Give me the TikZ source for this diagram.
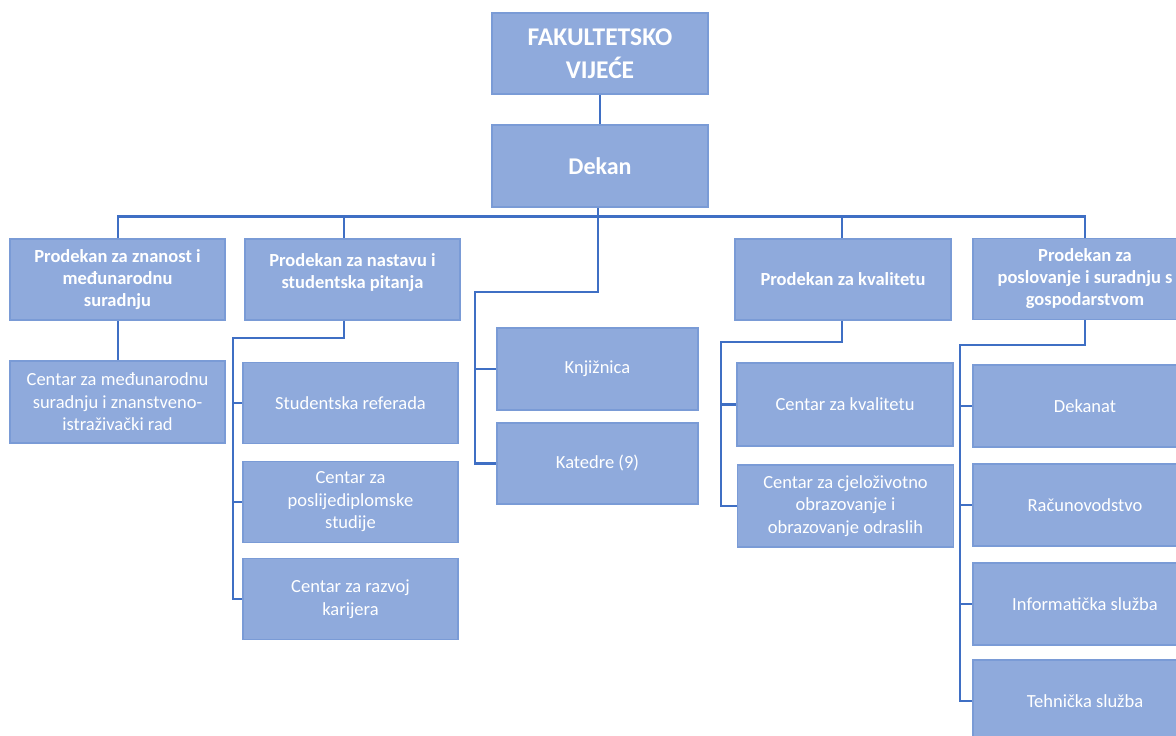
\documentclass[tikz,border=0pt]{standalone}
\usepackage{fontspec}
\setmainfont{Carlito}
\definecolor{boxfill}{HTML}{8FAADC}
\definecolor{boxedge}{HTML}{7A9BD6}
\definecolor{wire}{HTML}{3F6FC4}
\begin{document}
\begin{tikzpicture}[x=1pt,y=-1pt,
  box/.style={draw=boxedge,fill=boxfill,line width=1.6pt,text=white,align=center,
    inner sep=0pt,font=\fontsize{18.5}{22.5}\selectfont},
  headbox/.style={box,font=\bfseries\fontsize{18.5}{22}\selectfont},
  topbox/.style={box,font=\bfseries\fontsize{25.5}{33}\selectfont},
  wirel/.style={draw=wire,line width=2.2pt,line join=miter}]
\useasboundingbox (0,0) rectangle (1176,736);
\clip (0,0) rectangle (1176,736);
\fill[white] (0,0) rectangle (1176,736);

% boxes: centre, width, height in px
\node[topbox,minimum width=216,minimum height=81] (fv) at (600,53.5) {FAKULTETSKO\\VIJEĆE};
\node[topbox,font=\bfseries\fontsize{24}{30}\selectfont,minimum width=216,minimum height=82] (dek) at (600,166) {Dekan};

\node[headbox,minimum width=215,minimum height=81] (p1) at (117.5,279.5) {Prodekan za znanost i\\međunarodnu\\suradnju};
\node[headbox,minimum width=215,minimum height=81] (p2) at (352.5,279.5) {Prodekan za nastavu i\\studentska pitanja\\[-6pt]\mbox{}};
\node[headbox,minimum width=216,minimum height=81] (p3) at (843,279.5) {Prodekan za kvalitetu};
\node[headbox,minimum width=224,minimum height=81] (p4) at (1085,279) {Prodekan za\\poslovanje i suradnju s\\gospodarstvom};

\node[box,minimum width=215,minimum height=82] (c1) at (117.5,402) {Centar za međunarodnu\\suradnju i znanstveno-\\istraživački rad};

\node[box,minimum width=215,minimum height=81] (s1) at (350.5,403) {Studentska referada};
\node[box,minimum width=215,minimum height=81] (s2) at (350.5,502) {Centar za\\poslijediplomske\\studije};
\node[box,minimum width=215,minimum height=81] (s3) at (350.5,599) {Centar za razvoj\\karijera};

\node[box,minimum width=201,minimum height=82] (k1) at (597.5,369) {Knjižnica};
\node[box,minimum width=201,minimum height=81] (k2) at (597.5,463.5) {Katedre (9)};

\node[box,minimum width=216,minimum height=83] (q1) at (845,404.5) {Centar za kvalitetu};
\node[box,minimum width=216,minimum height=82] (q2) at (845.5,506) {Centar za cjeloživotno\\obrazovanje i\\obrazovanje odraslih};

\node[box,minimum width=224,minimum height=82] (d1) at (1085,406) {Dekanat};
\node[box,minimum width=224,minimum height=82] (d2) at (1085,505) {Računovodstvo};
\node[box,minimum width=224,minimum height=82] (d3) at (1085,604) {Informatička služba};
\node[box,minimum width=224,minimum height=82] (d4) at (1085,701) {Tehnička služba};

% connectors
\coordinate (busL) at (118,216.5);
\coordinate (busR) at (1085,216.5);
\draw[wirel] (fv.south) -- (dek.north);
\draw[wirel] (busL |- p1.north) -- (busL) -- (busR) -- (busR |- p4.north);
\draw[wirel] (344,216.5) -- (344,0 |- p2.north);
\draw[wirel] (842,216.5) -- (842,0 |- p3.north);
\draw[wirel] (118,0 |- p1.south) -- (118,0 |- c1.north);

% Dekan branch
\draw[wirel] (598,0 |- dek.south) -- (598,292) -- (475,292) |- (k2.west);
\draw[wirel] (475,0 |- k1.west) -- (k1.west);

% nastava branch
\draw[wirel] (344,0 |- p2.south) -- (344,338) -- (233,338) |- (s3.west);
\draw[wirel] (233,0 |- s1.west) -- (s1.west);
\draw[wirel] (233,0 |- s2.west) -- (s2.west);

% kvaliteta branch
\draw[wirel] (842,0 |- p3.south) -- (842,342) -- (721,342) |- (q2.west);
\draw[wirel] (721,0 |- q1.west) -- (q1.west);

% poslovanje branch
\draw[wirel] (busR |- p4.south) -- (1085,345) -- (960,345) |- (d4.west);
\draw[wirel] (960,0 |- d1.west) -- (d1.west);
\draw[wirel] (960,0 |- d2.west) -- (d2.west);
\draw[wirel] (960,0 |- d3.west) -- (d3.west);
\end{tikzpicture}
\end{document}
